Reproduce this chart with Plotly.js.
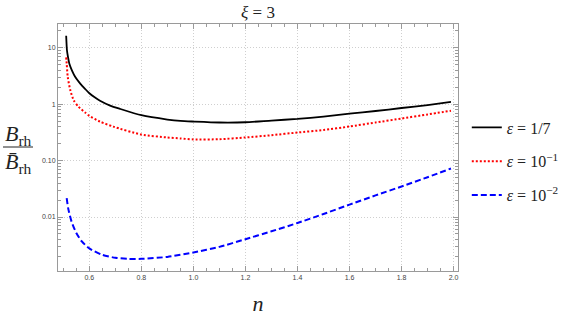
<!DOCTYPE html>
<html>
<head>
<meta charset="utf-8">
<script src="https://cdn.plot.ly/plotly-3.0.1.min.js"></script>
<style>html,body{margin:0;padding:0;background:#fff;}#chart{width:578px;height:317px;}</style>
</head>
<body>
<div id="chart"></div>
<script>
// ---- data ----
const nBlack = [0.511,0.514,0.518,0.523,0.533,0.546,0.565,0.585,0.6,0.622,0.641,0.68,0.718,0.8,0.9,0.95,1.0,1.1,1.2,1.3,1.4,1.5,1.6,1.7,1.8,1.9,1.99];
const vBlack = [16.5,9.1,6.9,5.3,4.0,3.05,2.33,1.85,1.57,1.315,1.16,0.95,0.83,0.64,0.537,0.507,0.494,0.475,0.48,0.515,0.55,0.605,0.684,0.76,0.86,0.97,1.10];

const nRed = [0.511,0.513,0.517,0.527,0.54,0.559,0.585,0.6,0.641,0.692,0.8,0.9,0.95,1.0,1.1,1.2,1.3,1.4,1.5,1.6,1.7,1.8,1.9,1.99];
const vRed = [6.8,5.3,3.05,1.77,1.18,0.90,0.707,0.625,0.493,0.402,0.29,0.258,0.248,0.238,0.24,0.258,0.283,0.316,0.35,0.404,0.475,0.56,0.66,0.77];

const nBlue = [0.513,0.519,0.532,0.55,0.571,0.6,0.65,0.7,0.75,0.8,0.9,1.0,1.1,1.2,1.3,1.4,1.5,1.6,1.7,1.8,1.9,1.99];
const vBlue = [0.0217,0.0141,0.0082,0.0052,0.0037,0.00277,0.00213,0.00189,0.00181,0.00181,0.00196,0.00235,0.00295,0.00404,0.00558,0.00783,0.0113,0.0166,0.0242,0.0348,0.0509,0.0725];

const seriesNames = ['<i>ε</i> = 1/7', '<i>ε</i> = 10<sup>−1</sup>', '<i>ε</i> = 10<sup>−2</sup>'];
const yTickVals = [0.01, 0.1, 1, 10];
const yTickText = ['0.01', '0.10', '1', '10'];
const titleText = '<i>ξ</i> = 3';
const xTitle = '<i>n</i>';
const yNum = '<i>B</i><sub>rh</sub>';
const yDen = '<i>B̄</i><sub>rh</sub>';

// minor log ticks
const yMinor = [];
for (let d = -3; d <= 1; d++) for (let k = 2; k <= 9; k++) yMinor.push(k * Math.pow(10, d));

const serif = 'Liberation Serif';
const frame = '#9a9a9a';
const grid = '#cfcfcf';

const traces = [
  {x: nBlack, y: vBlack, name: seriesNames[0], legendgroup: 'a', mode: 'lines',
   line: {color: '#000000', width: 1.8, shape: 'spline', smoothing: 0.6}},
  {x: nRed, y: vRed, name: seriesNames[1], legendgroup: 'b', mode: 'lines',
   line: {color: '#ff0000', width: 2, dash: '2px,2px', shape: 'spline', smoothing: 0.6}},
  {x: nBlue, y: vBlue, name: seriesNames[2], legendgroup: 'c', mode: 'lines',
   line: {color: '#0000ff', width: 2, dash: '6px,3px', shape: 'spline', smoothing: 0.6}}
];

const layout = {
  width: 578, height: 317,
  margin: {l: 58, r: 120, t: 24, b: 46, pad: 0},
  paper_bgcolor: '#fff', plot_bgcolor: '#fff',
  font: {family: 'Liberation Sans', color: '#444'},
  title: {text: titleText, font: {family: serif, size: 17, color: '#222'},
          xref: 'paper', x: 0.5, xanchor: 'center', yref: 'container', y: 0.962, yanchor: 'middle'},
  xaxis: {
    range: [0.4796, 2.017], tickmode: 'linear', tick0: 0.6, dtick: 0.2, tickformat: '.1f',
    ticks: 'inside', ticklen: 5, tickcolor: frame, tickwidth: 1,
    showline: true, linecolor: frame, linewidth: 1, mirror: 'allticks',
    showgrid: true, gridcolor: grid, griddash: '1px,2px', gridwidth: 1,
    zeroline: false,
    tickfont: {size: 7, color: '#444'},
    minor: {dtick: 0.05, tick0: 0.6, ticks: 'inside', ticklen: 3, tickcolor: frame, showgrid: false},
    title: {text: xTitle, font: {family: serif, size: 22, color: '#222'}, standoff: 15}
  },
  yaxis: {
    type: 'log', range: [-2.958, 1.425], tickmode: 'array', tickvals: yTickVals, ticktext: yTickText,
    ticks: 'inside', ticklen: 5, tickcolor: frame, tickwidth: 1,
    showline: true, linecolor: frame, linewidth: 1, mirror: 'allticks',
    showgrid: true, gridcolor: grid, griddash: '1px,2px', gridwidth: 1,
    zeroline: false,
    tickfont: {size: 7, color: '#444'},
    minor: {tickmode: 'array', tickvals: yMinor, ticks: 'inside', ticklen: 3, tickcolor: frame, showgrid: false}
  },
  showlegend: true,
  legend: {x: 1.022, xanchor: 'left', y: 0.65, yanchor: 'top',
           font: {family: serif, size: 16, color: '#222'},
           traceorder: 'grouped', tracegroupgap: 10, bgcolor: 'rgba(0,0,0,0)'},
  annotations: [
    {xref: 'paper', yref: 'paper', x: -0.1, y: 0.549, text: yNum, showarrow: false,
     font: {family: serif, size: 22, color: '#222'}, xanchor: 'center', yanchor: 'middle'},
    {xref: 'paper', yref: 'paper', x: -0.1, y: 0.436, text: yDen, showarrow: false,
     font: {family: serif, size: 22, color: '#222'}, xanchor: 'center', yanchor: 'middle'}
  ],
  shapes: [
    {type: 'line', xref: 'paper', yref: 'paper', x0: -0.1375, x1: -0.0625, y0: 0.502, y1: 0.502,
     line: {color: '#222', width: 1}}
  ]
};

Plotly.newPlot('chart', traces, layout, {displayModeBar: false, staticPlot: true});
</script>
</body>
</html>
